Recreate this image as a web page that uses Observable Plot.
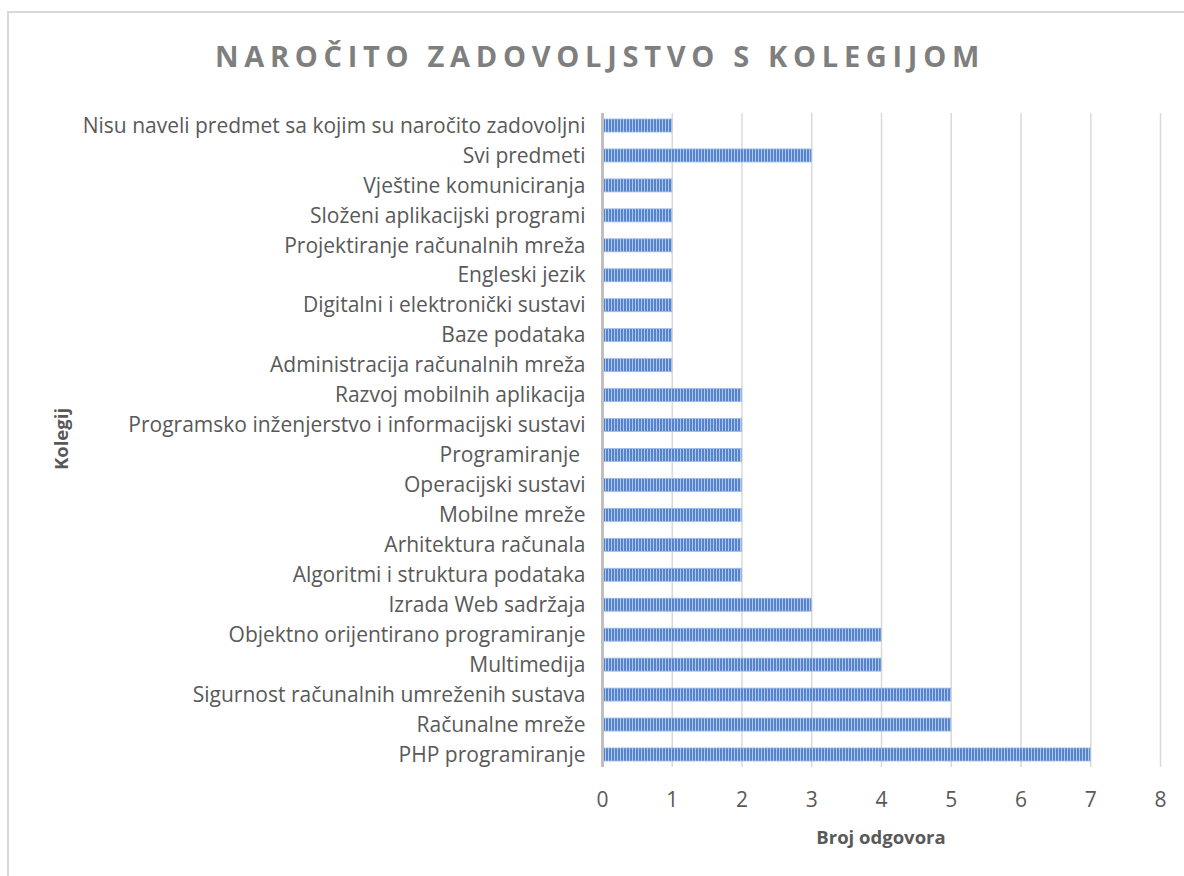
<!DOCTYPE html>
<html>
<head>
<meta charset="utf-8">
<script src="https://cdn.jsdelivr.net/npm/d3@7"></script>
<script src="https://cdn.jsdelivr.net/npm/@observablehq/plot@0.6"></script>
<style>
  html, body { margin: 0; padding: 0; background: #fff; }
  body { width: 1184px; height: 876px; position: relative; overflow: hidden; font-family: "Open Sans", sans-serif; }
  #frame { position: absolute; left: 7px; top: 11px; width: 1200px; height: 900px; border-left: 2px solid #d9d9d9; border-top: 2px solid #d9d9d9; box-sizing: border-box; }
  #title { position: absolute; left: 0; width: 1200px; top: 36px; text-align: center; font-family: "Open Sans", sans-serif; font-weight: bold; font-size: 29px; letter-spacing: 5.7px; color: #7f7f7f; }
  #chart { position: absolute; left: 0; top: 0; }
  #ylabel { position: absolute; left: 60px; top: 439px; transform: translate(-50%, -50%) rotate(-90deg); font-weight: bold; font-size: 18.5px; color: #595959; white-space: nowrap; }
  #xlabel { position: absolute; left: 881px; top: 836px; transform: translate(-50%, -50%); font-weight: bold; font-size: 18.5px; color: #595959; white-space: nowrap; }
</style>
</head>
<body>
<div id="frame"></div>
<div id="title">NAROČITO ZADOVOLJSTVO S KOLEGIJOM</div>
<div id="chart"></div>
<div id="ylabel">Kolegij</div>
<div id="xlabel">Broj odgovora</div>
<script>
const categories = [
  "Nisu naveli predmet sa kojim su naročito zadovoljni",
  "Svi predmeti",
  "Vještine komuniciranja",
  "Složeni aplikacijski programi",
  "Projektiranje računalnih mreža",
  "Engleski jezik",
  "Digitalni i elektronički sustavi",
  "Baze podataka",
  "Administracija računalnih mreža",
  "Razvoj mobilnih aplikacija",
  "Programsko inženjerstvo i informacijski sustavi",
  "Programiranje ",
  "Operacijski sustavi",
  "Mobilne mreže",
  "Arhitektura računala",
  "Algoritmi i struktura podataka",
  "Izrada Web sadržaja",
  "Objektno orijentirano programiranje",
  "Multimedija",
  "Sigurnost računalnih umreženih sustava",
  "Računalne mreže",
  "PHP programiranje"
];
const counts = [1, 3, 1, 1, 1, 1, 1, 1, 1, 2, 2, 2, 2, 2, 2, 2, 3, 4, 4, 5, 5, 7];
const xTicks = [0, 1, 2, 3, 4, 5, 6, 7, 8];

const data = categories.map((c, i) => ({ kolegij: c, broj: counts[i] }));

const chart = Plot.plot({
  width: 1184,
  height: 876,
  marginLeft: 602,
  marginRight: 24,
  marginTop: 113,
  marginBottom: 109,
  style: { fontFamily: "Open Sans, sans-serif", fontSize: "21px", color: "#595959", background: "transparent", overflow: "visible" },
  x: { domain: [0, 8], ticks: xTicks, label: null },
  y: { domain: categories, paddingInner: 0.565, paddingOuter: 0.2, round: false, label: null },
  marks: [
    Plot.gridX(xTicks, { stroke: "#d9d9d9", strokeOpacity: 1, strokeWidth: 1.5 }),
    Plot.barX(data, { x: "broj", y: "kolegij", fill: "url(#stripes)", stroke: "#9dbbe6", strokeWidth: 0.8 }),
    Plot.ruleX([0], { stroke: "#bfbfbf", strokeWidth: 3 }),
    Plot.axisX(xTicks, { tickSize: 0, tickPadding: 25, fontSize: 21, fill: "#595959", label: null }),
    Plot.axisY({ tickSize: 0, tickPadding: 17, fontSize: 21, fill: "#595959", label: null })
  ]
});

const svg = d3.select(chart);
svg.selectAll('g[aria-label="x-axis tick label"]').attr("font-size", 21).style("font-size", "21px");
const defs = svg.insert("defs", ":first-child");
const pat = defs.append("pattern").attr("id", "stripes").attr("patternUnits", "userSpaceOnUse").attr("width", 3).attr("height", 10);
pat.append("rect").attr("width", 3).attr("height", 10).attr("fill", "#5584cc");
pat.append("rect").attr("x", 2).attr("width", 1).attr("height", 10).attr("fill", "#b0c7ec");

document.getElementById("chart").appendChild(chart);
</script>
</body>
</html>
